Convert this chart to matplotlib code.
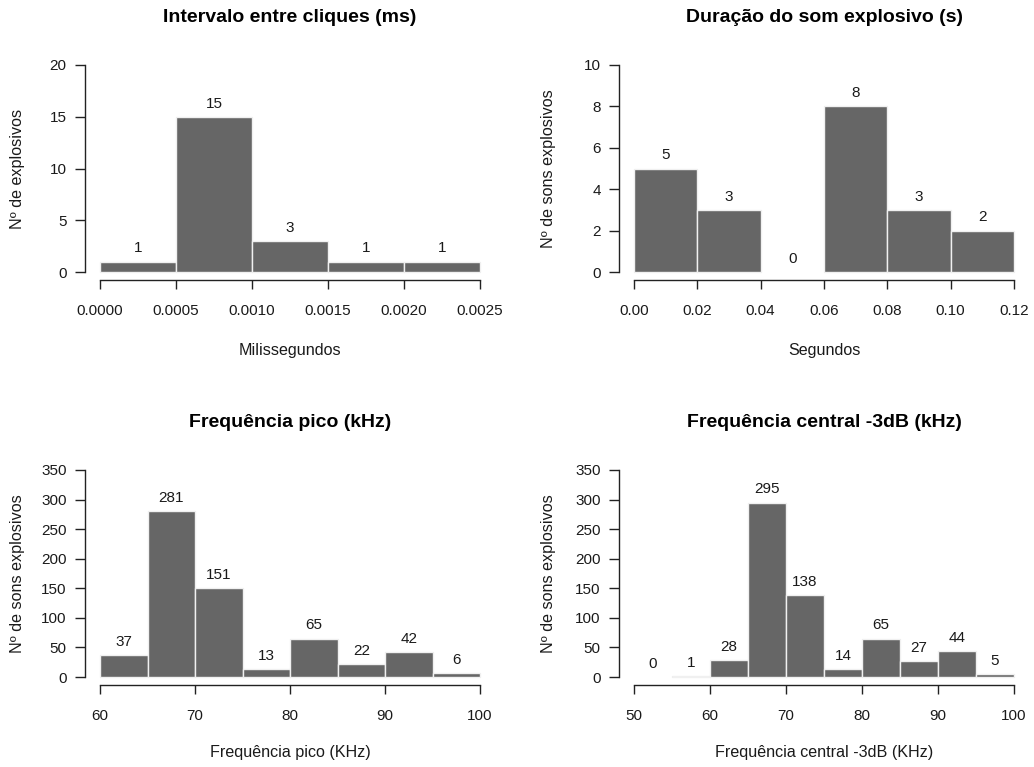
import matplotlib
matplotlib.use("Agg")
import matplotlib.pyplot as plt
import numpy as np

plt.rcParams['font.family'] = ['Liberation Sans', 'DejaVu Sans']

# ---- data ----
titles = ["Intervalo entre cliques (ms)", "Duração do som explosivo (s)",
          "Frequência pico (kHz)", "Frequência central -3dB (kHz)"]
xlabels = ["Milissegundos", "Segundos", "Frequência pico (KHz)",
           "Frequência central -3dB (KHz)"]
ylabels = ["Nº de explosivos", "Nº de sons explosivos",
           "Nº de sons explosivos", "Nº de sons explosivos"]

edges_ici = [0.0, 0.0005, 0.0010, 0.0015, 0.0020, 0.0025]
counts_ici = [1, 15, 3, 1, 1]
edges_dur = [0.00, 0.02, 0.04, 0.06, 0.08, 0.10, 0.12]
counts_dur = [5, 3, 0, 8, 3, 2]
edges_pico = [60, 65, 70, 75, 80, 85, 90, 95, 100]
counts_pico = [37, 281, 151, 13, 65, 22, 42, 6]
edges_cent = [50, 55, 60, 65, 70, 75, 80, 85, 90, 95, 100]
counts_cent = [0, 1, 28, 295, 138, 14, 65, 27, 44, 5]

xticks_ici = [0.0, 0.0005, 0.0010, 0.0015, 0.0020, 0.0025]
xticks_dur = [0.00, 0.02, 0.04, 0.06, 0.08, 0.10, 0.12]
xticks_pico = [60, 70, 80, 90, 100]
xticks_cent = [50, 60, 70, 80, 90, 100]
xfmt = ["{:.4f}", "{:.2f}", "{:.0f}", "{:.0f}"]

yticks_ici = [0, 5, 10, 15, 20]
yticks_dur = [0, 2, 4, 6, 8, 10]
yticks_freq = [0, 50, 100, 150, 200, 250, 300, 350]

panels = [
    (edges_ici, counts_ici, xticks_ici, yticks_ici),
    (edges_dur, counts_dur, xticks_dur, yticks_dur),
    (edges_pico, counts_pico, xticks_pico, yticks_freq),
    (edges_cent, counts_cent, xticks_cent, yticks_freq),
]

W, H = 1034, 767
fig = plt.figure(figsize=(W / 100, H / 100), dpi=100)

# plot regions in pixels (left, top, width, height)
regions = [
    (84.8, 56.7, 410.4, 223.6),
    (618.8, 56.7, 410.4, 223.6),
    (84.8, 461.7, 410.4, 223.6),
    (618.8, 461.7, 410.4, 223.6),
]
title_y = [18, 18, 422, 422]
xlabel_y = [350, 350, 753, 753]
ylabel_x = [18, 549, 18, 549]

bar_col = "#666666"
txt_col = "#1a1a1a"
fs = 11
fs_lab = 11.6

for i, (edges, counts, xt, yt) in enumerate(panels):
    l, t, w, h = regions[i]
    ax = fig.add_axes([l / W, 1 - (t + h) / H, w / W, h / H])
    edges = np.array(edges, dtype=float)
    counts = np.array(counts)
    widths = np.diff(edges)
    nz = counts > 0
    ax.bar(edges[:-1][nz], counts[nz], width=widths[nz], align='edge',
           color=bar_col, edgecolor='#f0f0f0', linewidth=1.0)
    mids = edges[:-1] + widths / 2
    for m, c in zip(mids, counts):
        ax.annotate(str(c), (m, c), xytext=(0, 9.5), textcoords='offset points',
                    ha='center', va='center', fontsize=fs, color=txt_col)
    x0, x1 = xt[0], xt[-1]
    y0, y1 = yt[0], yt[-1]
    dx = (x1 - x0) * 0.04
    dy = (y1 - y0) * 0.04
    ax.set_xlim(x0 - dx, x1 + dx)
    ax.set_ylim(y0 - dy, y1 + dy)
    for s in ['top', 'right']:
        ax.spines[s].set_visible(False)
    ax.spines['left'].set_bounds(y0, y1)
    ax.spines['bottom'].set_bounds(x0, x1)
    for s in ['left', 'bottom']:
        ax.spines[s].set_color('#222222')
        ax.spines[s].set_linewidth(1.0)
    ax.set_xticks(xt)
    ax.set_xticklabels([xfmt[i].format(v) for v in xt])
    ax.set_yticks(yt)
    ax.set_yticklabels([str(v) for v in yt])
    ax.tick_params(axis='x', length=6.5, width=1.0, pad=10.5, labelsize=fs,
                   colors='#222222', labelcolor=txt_col)
    ax.tick_params(axis='y', length=7, width=1.0, pad=6, labelsize=fs,
                   colors='#222222', labelcolor=txt_col)
    ax.patch.set_visible(False)
    xc = (l + w / 2) / W
    fig.text(xc, 1 - title_y[i] / H, titles[i], ha='center', va='center',
             fontsize=14, fontweight='bold', color='black')
    fig.text(xc, 1 - xlabel_y[i] / H, xlabels[i], ha='center', va='center',
             fontsize=fs_lab, color=txt_col)
    fig.text(ylabel_x[i] / W, 1 - (t + h / 2) / H, ylabels[i], ha='center',
             va='center', rotation=90, fontsize=fs_lab, color=txt_col)

fig.savefig("out.png", dpi=100, facecolor='white')
